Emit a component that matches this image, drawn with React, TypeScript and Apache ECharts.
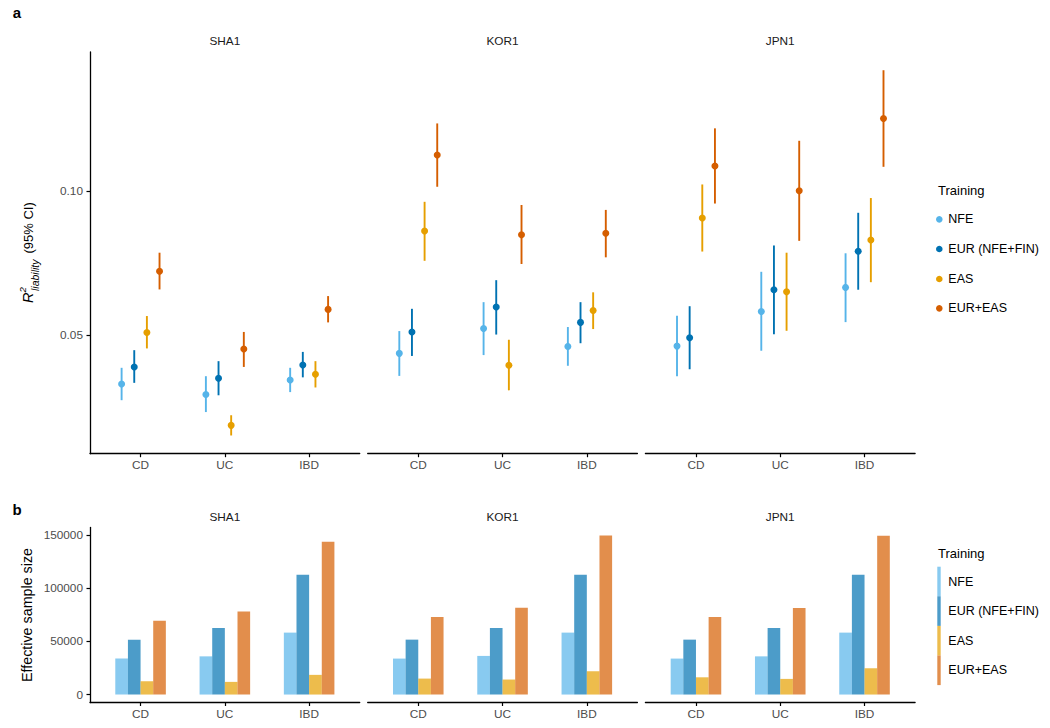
import React, { useEffect, useRef } from "react";
import * as echarts from "echarts";

// ---------- data ----------
const PANELS = ["SHA1", "KOR1", "JPN1"];
const DISEASES = ["CD", "UC", "IBD"];
const GROUPS = ["NFE", "EUR (NFE+FIN)", "EAS", "EUR+EAS"];

// R2 liability estimates: rows = CD, UC, IBD; cols = NFE, EUR, EAS, EUR+EAS
const SHA1_EST = [
  [0.0332, 0.0391, 0.051, 0.0722],
  [0.0296, 0.0352, 0.0189, 0.0453],
  [0.0346, 0.0398, 0.0366, 0.059],
];
const SHA1_LO = [
  [0.0276, 0.0336, 0.0455, 0.0659],
  [0.0235, 0.0293, 0.0154, 0.0391],
  [0.0304, 0.0355, 0.032, 0.0545],
];
const SHA1_HI = [
  [0.0388, 0.0449, 0.0567, 0.0786],
  [0.0359, 0.0411, 0.0224, 0.0512],
  [0.0388, 0.0443, 0.0411, 0.0636],
];
const KOR1_EST = [
  [0.0438, 0.0512, 0.0861, 0.1124],
  [0.0524, 0.0598, 0.0397, 0.0848],
  [0.0462, 0.0545, 0.0586, 0.0853],
];
const KOR1_LO = [
  [0.036, 0.0429, 0.0758, 0.1014],
  [0.0432, 0.0503, 0.031, 0.0747],
  [0.0395, 0.0473, 0.0522, 0.077],
];
const KOR1_HI = [
  [0.0515, 0.0592, 0.0962, 0.1233],
  [0.0615, 0.0691, 0.0485, 0.0951],
  [0.0529, 0.0615, 0.0649, 0.0934],
];
const JPN1_EST = [
  [0.0463, 0.0492, 0.0906, 0.1086],
  [0.0583, 0.0658, 0.0651, 0.1],
  [0.0666, 0.0791, 0.083, 0.125],
];
const JPN1_LO = [
  [0.0359, 0.0383, 0.079, 0.0956],
  [0.0447, 0.0504, 0.0516, 0.0827],
  [0.0546, 0.0658, 0.0684, 0.1083],
];
const JPN1_HI = [
  [0.0568, 0.0601, 0.1022, 0.1216],
  [0.072, 0.0811, 0.0786, 0.1173],
  [0.0784, 0.0924, 0.0975, 0.1417],
];

// Effective sample size: rows = CD, UC, IBD; cols = NFE, EUR, EAS, EUR+EAS
const SHA1_N = [
  [33800, 51600, 12500, 69400],
  [35900, 62600, 11900, 78100],
  [58200, 112600, 18500, 143500],
];
const KOR1_N = [
  [33800, 51600, 15000, 72900],
  [36300, 62600, 14100, 81600],
  [58200, 112600, 21900, 149500],
];
const JPN1_N = [
  [33800, 51600, 16200, 72900],
  [35900, 62600, 14700, 81300],
  [58200, 112600, 24700, 149300],
];

const R2_TICKS = [0.05, 0.1];
const N_TICKS = [0, 50000, 100000, 150000];

const EST = [SHA1_EST, KOR1_EST, JPN1_EST];
const LO = [SHA1_LO, KOR1_LO, JPN1_LO];
const HI = [SHA1_HI, KOR1_HI, JPN1_HI];
const NS = [SHA1_N, KOR1_N, JPN1_N];

// ---------- style ----------
const COLORS = ["#56B4E9", "#0072B2", "#E69F00", "#D55E00"];
const DODGE = [-0.225, -0.075, 0.075, 0.225];
const BAR_W = 0.15;
const FONT = "'Liberation Sans', Arial, Helvetica, sans-serif";
const TICK_COLOR = "#4D4D4D";

const PANEL_LEFT = [90, 367.7, 645.4];
const PANEL_W = 269.7;
const A_TOP = 52;
const A_H = 401.7;
const B_TOP = 527.5;
const B_H = 175;

function buildOption() {
  const grids: any[] = [];
  const xAxes: any[] = [];
  const yAxes: any[] = [];
  const series: any[] = [];
  const graphic: any[] = [];

  const xAxisBase = (i: number) => ({
    gridIndex: i,
    type: "value",
    min: 0.4,
    max: 3.6,
    axisLine: { show: true, onZero: false, lineStyle: { color: "#000", width: 1.3 } },
    axisTick: { show: true, length: 3.5, customValues: [1, 2, 3], lineStyle: { color: "#000", width: 1.2 } },
    axisLabel: {
      customValues: [1, 2, 3],
      formatter: (v: number) => DISEASES[Math.round(v) - 1],
      color: TICK_COLOR,
      fontSize: 11.8,
      fontFamily: FONT,
      margin: 5,
    },
    splitLine: { show: false },
  });

  for (let p = 0; p < 3; p++) {
    grids.push({ left: PANEL_LEFT[p], top: A_TOP, width: PANEL_W, height: A_H });
  }
  for (let p = 0; p < 3; p++) {
    grids.push({ left: PANEL_LEFT[p], top: B_TOP, width: PANEL_W, height: B_H });
  }

  for (let i = 0; i < 6; i++) xAxes.push(xAxisBase(i));

  for (let p = 0; p < 3; p++) {
    yAxes.push({
      gridIndex: p,
      type: "value",
      min: 0.0091,
      max: 0.148,
      show: p === 0,
      axisLine: { show: true, onZero: false, lineStyle: { color: "#000", width: 1.3 } },
      axisTick: { show: true, length: 3.5, customValues: R2_TICKS, lineStyle: { color: "#000", width: 1.2 } },
      axisLabel: {
        customValues: R2_TICKS,
        formatter: (v: number) => v.toFixed(2),
        color: TICK_COLOR,
        fontSize: 11.8,
        fontFamily: FONT,
        margin: 7,
      },
      splitLine: { show: false },
    });
  }
  for (let p = 0; p < 3; p++) {
    yAxes.push({
      gridIndex: 3 + p,
      type: "value",
      min: -7480,
      max: 157000,
      show: p === 0,
      axisLine: { show: true, onZero: false, lineStyle: { color: "#000", width: 1.3 } },
      axisTick: { show: true, length: 3.5, customValues: N_TICKS, lineStyle: { color: "#000", width: 1.2 } },
      axisLabel: {
        customValues: N_TICKS,
        formatter: (v: number) => String(Math.round(v)),
        color: TICK_COLOR,
        fontSize: 11.8,
        fontFamily: FONT,
        margin: 7,
      },
      splitLine: { show: false },
    });
  }

  // panel a: point ranges
  for (let p = 0; p < 3; p++) {
    for (let g = 0; g < 4; g++) {
      const color = COLORS[g];
      series.push({
        name: GROUPS[g] + " CI",
        type: "custom",
        xAxisIndex: p,
        yAxisIndex: p,
        encode: { x: 0, y: [1, 2] },
        data: DISEASES.map((_, d) => [d + 1 + DODGE[g], LO[p][d][g], HI[p][d][g]]),
        renderItem: (params: any, api: any) => {
          const x = api.value(0);
          const a = api.coord([x, api.value(1)]);
          const b = api.coord([x, api.value(2)]);
          return {
            type: "line",
            shape: { x1: a[0], y1: a[1], x2: b[0], y2: b[1] },
            style: { stroke: color, lineWidth: 1.9 },
          };
        },
        z: 2,
      });
      series.push({
        name: GROUPS[g],
        type: "scatter",
        xAxisIndex: p,
        yAxisIndex: p,
        symbol: "circle",
        symbolSize: 7,
        itemStyle: { color, opacity: 1 },
        data: DISEASES.map((_, d) => [d + 1 + DODGE[g], EST[p][d][g]]),
        z: 3,
      });
    }
  }

  // panel b: bars
  for (let p = 0; p < 3; p++) {
    for (let g = 0; g < 4; g++) {
      const color = COLORS[g];
      series.push({
        name: GROUPS[g] + " N",
        type: "custom",
        xAxisIndex: 3 + p,
        yAxisIndex: 3 + p,
        encode: { x: 0, y: 1 },
        data: DISEASES.map((_, d) => [d + 1 + DODGE[g], NS[p][d][g]]),
        renderItem: (params: any, api: any) => {
          const x = api.value(0);
          const top = api.coord([x - BAR_W / 2, api.value(1)]);
          const base = api.coord([x + BAR_W / 2, 0]);
          return {
            type: "rect",
            shape: { x: top[0], y: top[1], width: base[0] - top[0], height: base[1] - top[1] },
            style: { fill: color, opacity: 0.7 },
          };
        },
        z: 2,
      });
    }
  }

  // panel labels
  graphic.push({
    type: "text", x: 17, y: 12,
    style: { text: "a", font: `bold 15px ${FONT}`, fill: "#000", align: "center", verticalAlign: "middle" },
  });
  graphic.push({
    type: "text", x: 17, y: 509,
    style: { text: "b", font: `bold 15px ${FONT}`, fill: "#000", align: "center", verticalAlign: "middle" },
  });

  // strip titles
  for (let p = 0; p < 3; p++) {
    const cx = PANEL_LEFT[p] + PANEL_W / 2;
    graphic.push({
      type: "text", x: cx, y: 40.7,
      style: { text: PANELS[p], font: `11.8px ${FONT}`, fill: "#1A1A1A", align: "center", verticalAlign: "middle" },
    });
    graphic.push({
      type: "text", x: cx, y: 516.7,
      style: { text: PANELS[p], font: `11.8px ${FONT}`, fill: "#1A1A1A", align: "center", verticalAlign: "middle" },
    });
  }

  // y title a : R^2_liability (95% CI)
  graphic.push({
    type: "group",
    x: 33,
    y: 303,
    rotation: Math.PI / 2,
    children: [
      { type: "text", x: 0, y: -5, style: { text: "R", font: `italic 14.5px ${FONT}`, fill: "#000", align: "left", verticalAlign: "middle" } },
      { type: "text", x: 10.5, y: -10.5, style: { text: "2", font: `italic 9.5px ${FONT}`, fill: "#000", align: "left", verticalAlign: "middle" } },
      { type: "text", x: 12, y: 1.5, style: { text: "liability", font: `italic 10.5px ${FONT}`, fill: "#000", align: "left", verticalAlign: "middle" } },
      { type: "text", x: 49.5, y: -4.5, style: { text: "(95% CI)", font: `13px ${FONT}`, fill: "#000", align: "left", verticalAlign: "middle" } },
    ],
  });

  // y title b
  graphic.push({
    type: "text",
    x: 26.5,
    y: 615,
    rotation: Math.PI / 2,
    style: { text: "Effective sample size", font: `14.3px ${FONT}`, fill: "#000", align: "center", verticalAlign: "middle" },
  });

  // legend a
  graphic.push({
    type: "text", x: 938, y: 190,
    style: { text: "Training", font: `13px ${FONT}`, fill: "#000", align: "left", verticalAlign: "middle" },
  });
  const LEG_A_Y = [219.3, 249, 279, 308.3];
  for (let g = 0; g < 4; g++) {
    graphic.push({ type: "circle", shape: { cx: 939.3, cy: LEG_A_Y[g], r: 3.3 }, style: { fill: COLORS[g] } });
    graphic.push({
      type: "text", x: 948.3, y: LEG_A_Y[g],
      style: { text: GROUPS[g], font: `12.5px ${FONT}`, fill: "#000", align: "left", verticalAlign: "middle" },
    });
  }

  // legend b
  graphic.push({
    type: "text", x: 938, y: 553.5,
    style: { text: "Training", font: `13px ${FONT}`, fill: "#000", align: "left", verticalAlign: "middle" },
  });
  for (let g = 0; g < 4; g++) {
    const y0 = 566.7 + g * 29.6;
    graphic.push({ type: "rect", shape: { x: 937.3, y: y0, width: 3.4, height: 29.6 }, style: { fill: COLORS[g], opacity: 0.7 } });
    graphic.push({
      type: "text", x: 948.3, y: y0 + 14.8,
      style: { text: GROUPS[g], font: `12.5px ${FONT}`, fill: "#000", align: "left", verticalAlign: "middle" },
    });
  }

  return {
    animation: false,
    backgroundColor: "#fff",
    textStyle: { fontFamily: FONT },
    grid: grids,
    xAxis: xAxes,
    yAxis: yAxes,
    series,
    graphic,
  };
}

export default function App() {
  const ref = useRef<HTMLDivElement>(null);
  useEffect(() => {
    document.body.style.margin = "0";
    const chart = echarts.init(ref.current as HTMLDivElement, null, { renderer: "svg" });
    chart.setOption(buildOption() as any);
    return () => chart.dispose();
  }, []);
  return <div ref={ref} style={{ width: 1050, height: 728 }} />;
}
